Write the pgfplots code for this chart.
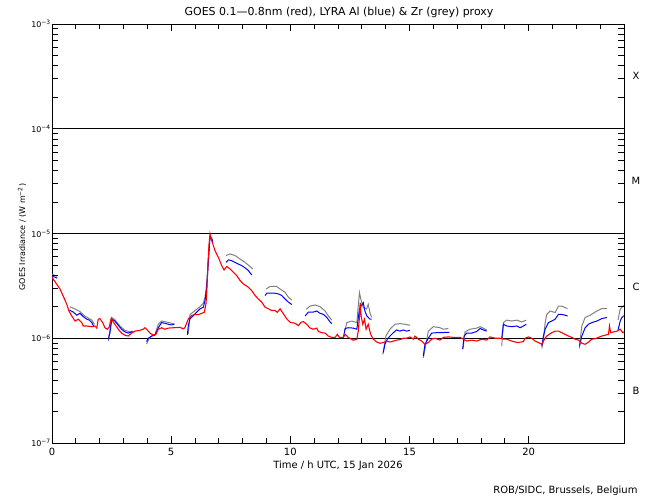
\documentclass[border=0pt]{standalone}
\usepackage{pgfplots}
\pgfplotsset{compat=1.18}
\usepackage{fontspec}
\setmainfont{DejaVu Sans}
\definecolor{goesred}{RGB}{255,0,0}
\definecolor{lyrablue}{RGB}{0,0,255}
\definecolor{lyragrey}{RGB}{128,128,128}
\begin{document}
\begin{tikzpicture}
\path[use as bounding box] (-52bp,-57bp) rectangle (598bp,443bp);
\begin{axis}[
  at={(0,0)}, anchor=south west,
  scale only axis, width=572bp, height=419bp,
  ymode=log, xmin=0, xmax=24, ymin=1e-7, ymax=1e-3,
  xtick={0,5,10,15,20}, minor x tick num=4,
  ytick={1e-7,1e-6,1e-5,1e-4,1e-3},
  tick pos=both,
  yticklabels={10\textsuperscript{−7},10\textsuperscript{−6},10\textsuperscript{−5},10\textsuperscript{−4},10\textsuperscript{−3}},
  yticklabel style={font=\fontsize{8}{9}\selectfont, inner sep=1bp},
  xticklabel style={font=\fontsize{10}{11}\selectfont, yshift=-2bp},
  /pgf/number format/assume math mode=true,
  tick align=inside,
  major tick length=7bp, minor tick length=5bp,
  tick style={black, line width=0.8pt},
  axis line style={black, line width=0.9pt},
  ymajorgrids=true,
  major grid style={black, line width=1pt},
  unbounded coords=jump,
  clip=true,
]
% grey (Zr proxy)
\addplot[lyragrey, line width=1pt] coordinates {
(0.0,4.1e-6)(0.1,4.0e-6)(0.22,3.9e-6)(0.3,nan)
(0.75,2.0e-6)(0.97,1.9e-6)(1.17,1.80e-6)(1.38,1.63e-6)(1.67,1.49e-6)(1.78,1.36e-6)(1.85,nan)
(2.36,0.94e-6)(2.43,1.2e-6)(2.50,1.58e-6)(2.64,1.5e-6)(2.85,1.31e-6)(3.06,1.19e-6)(3.27,1.15e-6)(3.41,1.17e-6)(3.5,nan)
(3.97,0.88e-6)(4.1,1.02e-6)(4.32,1.09e-6)(4.46,1.36e-6)(4.60,1.46e-6)(4.81,1.43e-6)(5.02,1.39e-6)(5.16,1.36e-6)(5.3,nan)
(5.72,1.1e-6)(5.79,1.68e-6)(6.0,1.84e-6)(6.21,2.0e-6)(6.35,2.16e-6)(6.42,2.46e-6)(6.49,3.3e-6)(6.55,5.0e-6)(6.60,7.6e-6)(6.63,9.4e-6)(6.70,9.1e-6)(6.75,8.5e-6)(6.8,nan)
(7.30,6.16e-6)(7.47,6.38e-6)(7.68,6.16e-6)(7.89,5.71e-6)(8.10,5.3e-6)(8.31,4.84e-6)(8.42,4.59e-6)(8.5,nan)
(8.98,2.95e-6)(9.15,3.12e-6)(9.43,3.12e-6)(9.57,2.95e-6)(9.78,2.75e-6)(9.92,2.46e-6)(10.06,2.32e-6)(10.2,nan)
(10.66,1.89e-6)(10.83,2.03e-6)(11.04,2.08e-6)(11.25,2.0e-6)(11.46,1.82e-6)(11.60,1.63e-6)(11.74,1.49e-6)(11.9,nan)
(12.30,1.2e-6)(12.37,1.41e-6)(12.58,1.46e-6)(12.79,1.41e-6)(12.90,2.73e-6)(12.96,2.36e-6)(13.06,1.96e-6)(13.20,1.9e-6)(13.27,2.11e-6)(13.34,1.76e-6)(13.41,1.58e-6)(13.5,nan)
(13.88,0.7e-6)(14.01,1.05e-6)(14.18,1.22e-6)(14.39,1.36e-6)(14.60,1.38e-6)(14.81,1.36e-6)(15.02,1.33e-6)(15.1,nan)
(15.58,0.65e-6)(15.79,1.17e-6)(16.0,1.29e-6)(16.28,1.26e-6)(16.42,1.22e-6)(16.63,1.24e-6)(16.8,nan)
(17.25,0.8e-6)(17.33,1.15e-6)(17.54,1.22e-6)(17.82,1.25e-6)(17.96,1.29e-6)(18.24,1.2e-6)(18.4,nan)
(18.87,0.84e-6)(18.94,1.41e-6)(19.08,1.49e-6)(19.29,1.46e-6)(19.50,1.49e-6)(19.71,1.43e-6)(19.90,1.49e-6)(20.0,nan)
(20.55,0.8e-6)(20.62,0.95e-6)(20.69,1.4e-6)(20.76,1.69e-6)(20.90,1.82e-6)(21.11,1.76e-6)(21.25,2.03e-6)(21.39,2.03e-6)(21.53,1.96e-6)(21.63,1.92e-6)(21.7,nan)
(22.13,0.8e-6)(22.16,0.95e-6)(22.23,1.31e-6)(22.37,1.58e-6)(22.58,1.66e-6)(22.86,1.82e-6)(23.07,1.92e-6)(23.28,1.92e-6)(23.4,nan)
(23.75,1.5e-6)(23.84,1.89e-6)(23.95,2.03e-6)(24.0,2.05e-6)
};
% blue (Al proxy)
\addplot[lyrablue, line width=1pt] coordinates {
(0.0,3.9e-6)(0.1,3.85e-6)(0.22,3.75e-6)(0.3,nan)
(0.73,1.86e-6)(0.89,1.78e-6)(1.04,1.66e-6)(1.17,1.73e-6)(1.31,1.61e-6)(1.46,1.52e-6)(1.57,1.49e-6)(1.67,1.41e-6)(1.76,1.29e-6)(1.85,nan)
(2.36,0.98e-6)(2.43,1.12e-6)(2.51,1.52e-6)(2.64,1.46e-6)(2.78,1.33e-6)(2.92,1.22e-6)(3.06,1.15e-6)(3.20,1.12e-6)(3.34,1.15e-6)(3.41,1.13e-6)(3.5,nan)
(3.97,0.93e-6)(4.04,1.0e-6)(4.18,1.05e-6)(4.32,1.07e-6)(4.46,1.26e-6)(4.60,1.41e-6)(4.74,1.39e-6)(4.88,1.36e-6)(5.02,1.34e-6)(5.12,1.36e-6)(5.3,nan)
(5.68,1.08e-6)(5.72,1.32e-6)(5.79,1.53e-6)(5.93,1.65e-6)(6.07,1.77e-6)(6.21,1.91e-6)(6.35,1.98e-6)(6.42,2.29e-6)(6.49,3.0e-6)(6.56,5.5e-6)(6.60,7.4e-6)(6.63,9.2e-6)(6.70,8.9e-6)(6.74,8.3e-6)(6.8,nan)
(7.30,5.3e-6)(7.40,5.6e-6)(7.54,5.5e-6)(7.68,5.3e-6)(7.82,5.11e-6)(7.96,4.94e-6)(8.10,4.70e-6)(8.24,4.43e-6)(8.38,4.02e-6)(8.5,nan)
(8.94,2.56e-6)(9.01,2.69e-6)(9.15,2.69e-6)(9.36,2.69e-6)(9.50,2.65e-6)(9.64,2.56e-6)(9.78,2.37e-6)(9.92,2.21e-6)(10.06,2.10e-6)(10.2,nan)
(10.62,1.63e-6)(10.76,1.78e-6)(10.97,1.78e-6)(11.11,1.82e-6)(11.25,1.73e-6)(11.39,1.69e-6)(11.53,1.58e-6)(11.67,1.43e-6)(11.74,1.38e-6)(11.9,nan)
(12.22,1.0e-6)(12.30,1.24e-6)(12.43,1.26e-6)(12.64,1.25e-6)(12.79,1.22e-6)(12.90,1.89e-6)(12.97,2.03e-6)(13.06,2.19e-6)(13.13,1.82e-6)(13.21,1.63e-6)(13.27,1.58e-6)(13.34,1.52e-6)(13.41,1.52e-6)(13.5,nan)
(13.90,0.73e-6)(13.97,0.876e-6)(14.07,0.98e-6)(14.18,1.05e-6)(14.32,1.13e-6)(14.46,1.2e-6)(14.60,1.17e-6)(14.74,1.2e-6)(14.88,1.17e-6)(15.02,1.19e-6)(15.1,nan)
(15.58,0.68e-6)(15.65,0.876e-6)(15.79,1.0e-6)(15.93,1.12e-6)(16.14,1.13e-6)(16.35,1.13e-6)(16.56,1.14e-6)(16.67,1.14e-6)(16.8,nan)
(17.23,0.785e-6)(17.29,1.05e-6)(17.40,1.12e-6)(17.61,1.12e-6)(17.82,1.16e-6)(17.96,1.24e-6)(18.10,1.20e-6)(18.24,1.17e-6)(18.4,nan)
(18.87,1.0e-6)(18.94,1.36e-6)(19.08,1.31e-6)(19.29,1.29e-6)(19.50,1.31e-6)(19.64,1.26e-6)(19.78,1.31e-6)(19.90,1.36e-6)(20.0,nan)
(20.55,0.84e-6)(20.62,1.05e-6)(20.69,1.22e-6)(20.83,1.41e-6)(20.97,1.46e-6)(21.11,1.52e-6)(21.25,1.69e-6)(21.39,1.69e-6)(21.53,1.66e-6)(21.63,1.63e-6)(21.7,nan)
(22.13,0.84e-6)(22.23,1.05e-6)(22.37,1.26e-6)(22.51,1.36e-6)(22.65,1.41e-6)(22.86,1.46e-6)(23.07,1.54e-6)(23.28,1.58e-6)(23.4,nan)
(23.75,1.2e-6)(23.84,1.46e-6)(23.91,1.58e-6)(23.98,1.63e-6)(24.0,1.64e-6)
};
% red (GOES 0.1-0.8 nm)
\addplot[goesred, line width=1.1pt] coordinates {
(0.0,3.85e-6)(0.03,3.72e-6)(0.20,3.28e-6)(0.34,2.94e-6)(0.47,2.53e-6)(0.62,2.11e-6)(0.71,1.82e-6)(0.83,1.63e-6)(0.97,1.46e-6)
(1.10,1.52e-6)(1.25,1.41e-6)(1.31,1.31e-6)(1.46,1.31e-6)(1.67,1.29e-6)(1.80,1.31e-6)(1.88,1.25e-6)(1.94,1.52e-6)
(2.01,1.54e-6)(2.13,1.41e-6)(2.22,1.26e-6)(2.32,1.22e-6)(2.40,1.28e-6)(2.48,1.54e-6)(2.64,1.36e-6)(2.78,1.22e-6)(2.92,1.12e-6)
(3.06,1.07e-6)(3.20,1.05e-6)(3.34,1.12e-6)(3.48,1.17e-6)(3.69,1.19e-6)(3.83,1.22e-6)(3.90,1.26e-6)(3.97,1.22e-6)
(4.11,1.12e-6)(4.25,1.07e-6)(4.36,1.09e-6)(4.46,1.22e-6)(4.60,1.26e-6)(4.74,1.22e-6)(4.88,1.25e-6)
(5.09,1.26e-6)(5.37,1.27e-6)(5.51,1.23e-6)(5.58,1.27e-6)(5.72,1.53e-6)(5.86,1.65e-6)
(6.00,1.68e-6)(6.14,1.68e-6)(6.28,1.73e-6)(6.39,1.77e-6)(6.46,2.13e-6)(6.49,2.65e-6)(6.52,3.82e-6)(6.55,5.52e-6)(6.59,7.94e-6)(6.63,9.9e-6)(6.70,8.57e-6)(6.84,6.87e-6)(6.98,5.93e-6)
(7.12,4.94e-6)(7.22,4.49e-6)(7.33,4.84e-6)(7.47,4.59e-6)(7.61,4.27e-6)(7.75,3.97e-6)(7.89,3.56e-6)
(8.03,3.30e-6)(8.24,3.07e-6)(8.38,2.85e-6)(8.52,2.56e-6)(8.66,2.37e-6)(8.80,2.21e-6)(8.94,1.98e-6)
(9.08,1.91e-6)(9.22,1.84e-6)(9.36,1.84e-6)(9.45,1.77e-6)(9.57,1.91e-6)(9.71,1.71e-6)(9.85,1.53e-6)(9.99,1.42e-6)
(10.20,1.39e-6)(10.34,1.32e-6)(10.45,1.42e-6)(10.55,1.44e-6)(10.69,1.36e-6)(10.83,1.25e-6)(10.97,1.22e-6)
(11.11,1.25e-6)(11.18,1.16e-6)(11.32,1.13e-6)(11.46,1.12e-6)(11.59,1.05e-6)(11.74,1.02e-6)(11.88,1.02e-6)(11.97,1.09e-6)
(12.06,1.02e-6)(12.22,1.02e-6)(12.30,1.09e-6)(12.43,1.02e-6)(12.64,0.957e-6)(12.79,0.98e-6)(12.85,1.17e-6)(12.90,1.58e-6)(12.93,2.19e-6)(12.97,1.63e-6)
(13.04,1.36e-6)(13.11,1.52e-6)(13.18,1.22e-6)(13.27,1.36e-6)(13.37,1.09e-6)(13.48,0.98e-6)(13.63,0.92e-6)(13.76,0.896e-6)(13.90,0.91e-6)
(14.05,0.94e-6)(14.18,0.92e-6)(14.32,0.94e-6)(14.46,0.96e-6)(14.60,0.97e-6)(14.74,1.0e-6)(14.88,1.0e-6)
(15.02,1.03e-6)(15.16,0.98e-6)(15.23,1.05e-6)(15.37,0.98e-6)(15.51,0.94e-6)(15.65,0.876e-6)(15.79,0.91e-6)(15.93,0.98e-6)
(16.07,1.0e-6)(16.28,0.96e-6)(16.42,1.02e-6)(16.63,1.03e-6)(16.84,1.02e-6)
(17.12,1.02e-6)(17.26,0.98e-6)(17.40,0.94e-6)(17.61,0.96e-6)(17.82,0.94e-6)
(18.03,0.98e-6)(18.24,0.96e-6)(18.38,1.03e-6)(18.59,1.0e-6)(18.80,1.0e-6)(18.94,0.98e-6)
(19.08,0.98e-6)(19.29,0.94e-6)(19.43,0.92e-6)(19.57,0.91e-6)(19.78,0.93e-6)(19.85,1.0e-6)(19.99,1.03e-6)
(20.13,1.0e-6)(20.27,0.94e-6)(20.41,0.91e-6)(20.55,0.876e-6)(20.62,0.94e-6)(20.76,1.05e-6)(20.97,1.13e-6)
(21.11,1.17e-6)(21.25,1.17e-6)(21.39,1.13e-6)(21.53,1.09e-6)(21.67,1.05e-6)(21.81,1.02e-6)(21.95,0.98e-6)
(22.09,0.96e-6)(22.23,0.896e-6)(22.37,0.876e-6)(22.51,0.92e-6)(22.65,0.98e-6)(22.79,0.99e-6)(22.93,1.02e-6)
(23.07,1.05e-6)(23.21,1.07e-6)(23.35,1.09e-6)(23.39,1.31e-6)(23.44,1.13e-6)(23.57,1.15e-6)(23.71,1.17e-6)(23.84,1.22e-6)(23.95,1.13e-6)(24.0,1.15e-6)
};
\end{axis}
% minor y ticks (left and right), hourly x ticks on top
\foreach \d in {0,104.75,209.5,314.25}{
  \foreach \o in {31.53,49.98,63.06,73.21,81.51,88.52,94.59,99.95}{
    \draw[black, line width=0.8pt] ({0bp},{(\d+\o)*1bp}) -- ({6bp},{(\d+\o)*1bp});
    \draw[black, line width=0.8pt] ({572bp},{(\d+\o)*1bp}) -- ({566bp},{(\d+\o)*1bp});
  }
}
\foreach \h in {1,2,3,4,6,7,8,9,11,12,13,14,16,17,18,19,21,22,23}{
  \draw[black, line width=0.8pt] ({\h*23.8333bp},{419bp}) -- ({\h*23.8333bp},{414bp});
}
\foreach \h in {5,10,15,20}{
  \draw[black, line width=0.8pt] ({\h*23.8333bp},{419bp}) -- ({\h*23.8333bp},{412bp});
}
\node[font=\fontsize{11}{12}\selectfont] at (287bp,431bp) {GOES 0.1—0.8nm (red), LYRA Al (blue) \& Zr (grey) proxy};
\node[font=\fontsize{10}{11}\selectfont] at (286bp,-23bp) {Time / h UTC, 15 Jan 2026};
\node[font=\fontsize{10}{11}\selectfont, anchor=east] at (589bp,-48bp) {ROB/SIDC, Brussels, Belgium};
\node[font=\fontsize{8}{9}\selectfont, rotate=90] at (-30bp,206bp) {GOES Irradiance / (W m\textsuperscript{−2})};
\node[font=\fontsize{10}{11}\selectfont] at (584bp,367bp) {X};
\node[font=\fontsize{10}{11}\selectfont] at (584bp,262bp) {M};
\node[font=\fontsize{10}{11}\selectfont] at (584bp,156bp) {C};
\node[font=\fontsize{10}{11}\selectfont] at (584bp,52bp) {B};
\end{tikzpicture}
\end{document}
